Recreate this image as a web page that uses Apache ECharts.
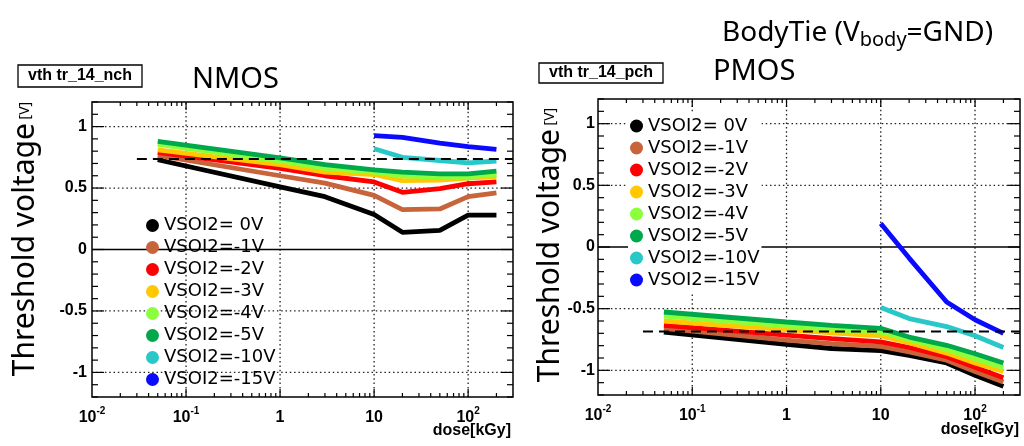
<!DOCTYPE html>
<html>
<head>
<meta charset="utf-8">
<script src="https://cdn.jsdelivr.net/npm/echarts@6/dist/echarts.min.js"></script>
<style>
html,body{margin:0;padding:0;background:#fff;}
#chart{width:1024px;height:446px;}
</style>
</head>
<body>
<div id="chart"></div>
<script>
// ---------- data ----------
const seriesNames = ['VSOI2= 0V','VSOI2=-1V','VSOI2=-2V','VSOI2=-3V','VSOI2=-4V','VSOI2=-5V','VSOI2=-10V','VSOI2=-15V'];
const seriesColors = ['#000000','#c8643c','#ff0000','#ffc800','#8cff3c','#00a84c','#28c8c8','#0a0aff'];
const doseLow  = [0.05, 1, 3, 10, 20, 50, 100, 200];
const doseHigh = [10, 20, 50, 100, 200];

// NMOS threshold voltage [V]
const nmos0V   = [0.73, 0.51, 0.43, 0.285, 0.14, 0.155, 0.28, 0.28];
const nmos1V   = [0.765, 0.60, 0.54, 0.44, 0.325, 0.33, 0.43, 0.46];
const nmos2V   = [0.79, 0.66, 0.60, 0.55, 0.465, 0.495, 0.535, 0.55];
const nmos3V   = [0.81, 0.69, 0.63, 0.61, 0.56, 0.565, 0.58, 0.595];
const nmos4V   = [0.855, 0.72, 0.66, 0.63, 0.60, 0.59, 0.59, 0.61];
const nmos5V   = [0.88, 0.745, 0.69, 0.648, 0.63, 0.615, 0.615, 0.637];
const nmos10V  = [0.82, 0.75, 0.724, 0.705, 0.72];
const nmos15V  = [0.927, 0.913, 0.865, 0.837, 0.815];
const nmosRef  = 0.737;

// PMOS threshold voltage [V]
const pmos0V   = [-0.69, -0.79, -0.823, -0.84, -0.878, -0.94, -1.04, -1.13];
const pmos1V   = [-0.66, -0.755, -0.783, -0.805, -0.85, -0.918, -1.01, -1.094];
const pmos2V   = [-0.635, -0.715, -0.743, -0.77, -0.815, -0.89, -0.975, -1.06];
const pmos3V   = [-0.60, -0.67, -0.697, -0.72, -0.775, -0.86, -0.94, -1.01];
const pmos4V   = [-0.56, -0.64, -0.67, -0.69, -0.75, -0.83, -0.905, -0.978];
const pmos5V   = [-0.527, -0.608, -0.635, -0.66, -0.73, -0.797, -0.865, -0.94];
const pmos10V  = [-0.49, -0.58, -0.645, -0.72, -0.815];
const pmos15V  = [0.19, -0.09, -0.446, -0.59, -0.70];
const pmosRef  = -0.685;

const refDose = [0.03, 300];

// axes / ticks
const X_MIN = 0.01, X_MAX = 300, Y_MIN = -1.2, Y_MAX = 1.2;
const xGridValues = [0.1, 1, 10, 100];
const yGridValues = [-1, -0.5, 0.5, 1];
const yMajorTicks = [-1, -0.5, 0, 0.5, 1];
const xMajorTicks = [0.1, 1, 10, 100];
const decades = [0.01, 0.1, 1, 10, 100];
const mantissas = [2, 3, 4, 5, 6, 7, 8, 9];

const xMinorTicks = [];
decades.forEach(d => mantissas.forEach(m => { const v = +(d * m).toPrecision(6); if (v < X_MAX) xMinorTicks.push(v); }));
const yMinorTicks = [];
for (let k = -12; k <= 12; k++) { if (k % 5 !== 0) yMinorTicks.push(k / 10); }

const nmosData = [nmos0V, nmos1V, nmos2V, nmos3V, nmos4V, nmos5V, nmos10V, nmos15V];
const pmosData = [pmos0V, pmos1V, pmos2V, pmos3V, pmos4V, pmos5V, pmos10V, pmos15V];

// ---------- helpers ----------
const LBL_FONT = '"Liberation Sans", Arial, sans-serif';
function pairs(xs, ys) { return ys.map((y, i) => [xs[i], y]); }

function dataSeries(gi, arrs) {
  return arrs.map((ys, i) => ({
    type: 'line', name: seriesNames[i], xAxisIndex: gi, yAxisIndex: gi,
    data: pairs(ys.length === doseLow.length ? doseLow : doseHigh, ys),
    showSymbol: false, symbol: 'circle', color: seriesColors[i],
    lineStyle: { color: seriesColors[i], width: 4.8 }, z: 2, silent: true
  }));
}
function refSeries(gi, v) {
  return { type: 'line', name: 'ref' + gi, xAxisIndex: gi, yAxisIndex: gi,
    data: refDose.map(x => [x, v]), showSymbol: false,
    lineStyle: { color: '#000', width: 2, type: [10, 6] }, z: 3, silent: true };
}
function vLineSeries(gi, values, style, z) {
  return { type: 'custom', xAxisIndex: gi, yAxisIndex: gi, silent: true, z: z, clip: false,
    data: values.map(v => [v, Y_MIN]),
    renderItem: (p, api) => {
      const v = api.value(0), a = api.coord([v, Y_MIN]), b = api.coord([v, Y_MAX]);
      return { type: 'line', shape: { x1: a[0], y1: a[1], x2: b[0], y2: b[1] }, style: style };
    } };
}
function hLineSeries(gi, values, style, z) {
  return { type: 'custom', xAxisIndex: gi, yAxisIndex: gi, silent: true, z: z, clip: false,
    data: values.map(v => [X_MIN, v]),
    renderItem: (p, api) => {
      const v = api.value(1), a = api.coord([X_MIN, v]), b = api.coord([X_MAX, v]);
      return { type: 'line', shape: { x1: a[0], y1: a[1], x2: b[0], y2: b[1] }, style: style };
    } };
}
const tickStyle = { stroke: '#000', lineWidth: 1.2 };
function xTickSeries(gi, values, len) {
  return { type: 'custom', xAxisIndex: gi, yAxisIndex: gi, silent: true, z: 5, clip: false,
    data: values.map(v => [v, Y_MIN]),
    renderItem: (p, api) => {
      const v = api.value(0), a = api.coord([v, Y_MIN]), b = api.coord([v, Y_MAX]);
      return { type: 'group', children: [
        { type: 'line', shape: { x1: a[0], y1: a[1], x2: a[0], y2: a[1] - len }, style: tickStyle },
        { type: 'line', shape: { x1: b[0], y1: b[1], x2: b[0], y2: b[1] + len }, style: tickStyle }
      ] };
    } };
}
function yTickSeries(gi, values, len) {
  return { type: 'custom', xAxisIndex: gi, yAxisIndex: gi, silent: true, z: 5, clip: false,
    data: values.map(v => [X_MIN, v]),
    renderItem: (p, api) => {
      const v = api.value(1), a = api.coord([X_MIN, v]), b = api.coord([X_MAX, v]);
      return { type: 'group', children: [
        { type: 'line', shape: { x1: a[0], y1: a[1], x2: a[0] + len, y2: a[1] }, style: tickStyle },
        { type: 'line', shape: { x1: b[0], y1: b[1], x2: b[0] - len, y2: b[1] }, style: tickStyle }
      ] };
    } };
}
const dotStyle = { stroke: '#222', lineWidth: 1.3, lineDash: [1.5, 2.8] };
const zeroStyle = { stroke: '#000', lineWidth: 1.3 };

function decorSeries(gi) {
  return [
    vLineSeries(gi, xGridValues, dotStyle, 1),
    hLineSeries(gi, yGridValues, dotStyle, 1),
    hLineSeries(gi, [0], zeroStyle, 1),
    xTickSeries(gi, xMajorTicks, 8),
    xTickSeries(gi, xMinorTicks, 4),
    yTickSeries(gi, yMajorTicks, 12),
    yTickSeries(gi, yMinorTicks, 6)
  ];
}

function xAxisDef(gi) {
  return { type: 'log', logBase: 10, gridIndex: gi, min: X_MIN, max: X_MAX,
    axisLine: { show: false, onZero: false }, axisTick: { show: false },
    splitLine: { show: false }, minorTick: { show: false }, minorSplitLine: { show: false },
    axisLabel: { margin: 9, formatter: v => {
        const l = Math.log10(v), e = Math.round(l);
        if (Math.abs(l - e) > 1e-6) return '';
        if (e === 0) return '{b|1}';
        if (e === 1) return '{b|10}';
        return '{b|10}{s|' + e + '}';
      },
      rich: { b: { fontFamily: LBL_FONT, fontWeight: 'bold', fontSize: 16, color: '#000', lineHeight: 20, verticalAlign: 'bottom' },
              s: { fontFamily: LBL_FONT, fontWeight: 'bold', fontSize: 10, color: '#000', lineHeight: 11, verticalAlign: 'top' } } } };
}
function yAxisDef(gi, margin) {
  return { type: 'value', gridIndex: gi, min: Y_MIN, max: Y_MAX, interval: 0.1,
    axisLine: { show: false, onZero: false }, axisTick: { show: false }, splitLine: { show: false },
    axisLabel: { margin: margin, fontFamily: LBL_FONT, fontWeight: 'bold', fontSize: 16, color: '#000',
      formatter: v => (Math.abs(v * 2 - Math.round(v * 2)) < 1e-6 ? String(Math.round(v * 2) / 2) : '') } };
}
function legendDef(left, top, bg) {
  return { data: seriesNames, orient: 'vertical', left: left, top: top, itemWidth: 13, itemHeight: 13,
    itemGap: 0, padding: bg ? [3, 2, 3, 2] : 0, icon: 'circle', selectedMode: false,
    backgroundColor: bg ? '#fff' : 'transparent', z: 6,
    textStyle: { fontFamily: '"DejaVu Sans", sans-serif', fontSize: 18, color: '#000', lineHeight: 22 } };
}

const TITLE_FONT = '"Noto Sans", "Liberation Sans", sans-serif';
function yTitle(x, y) {
  return { type: 'text', x: x, y: y, rotation: Math.PI / 2, z: 10,
    style: { x: 0, y: 0, text: '{m|Threshold voltage}{v| [V]}', align: 'center', verticalAlign: 'middle',
      textAlign: 'center', textVerticalAlign: 'middle',
      rich: { m: { fontFamily: TITLE_FONT, fontSize: 30, color: '#000', lineHeight: 36 },
              v: { fontFamily: TITLE_FONT, fontSize: 14, color: '#000', lineHeight: 36 } } } };
}
function plainText(x, y, text, font, align) {
  return { type: 'text', z: 10, style: { x: x, y: y, text: text, font: font, fill: '#000',
    align: align, textAlign: align, verticalAlign: 'middle', textVerticalAlign: 'middle' } };
}
function boxLabel(x, y, w, h, text) {
  return [
    { type: 'rect', z: 9, shape: { x: x, y: y, width: w, height: h }, style: { fill: '#fff', stroke: '#000', lineWidth: 1.3 } },
    plainText(x + w / 2, y + h / 2, text, 'bold 16px ' + LBL_FONT, 'center')
  ];
}

const option = {
  animation: false,
  backgroundColor: '#fff',
  grid: [
    { left: 92, top: 102, width: 421, height: 295, show: true, borderColor: '#000', borderWidth: 1.5, backgroundColor: '#fff' },
    { left: 598, top: 99, width: 422, height: 296, show: true, borderColor: '#000', borderWidth: 1.5, backgroundColor: '#fff' }
  ],
  xAxis: [xAxisDef(0), xAxisDef(1)],
  yAxis: [yAxisDef(0, 5), yAxisDef(1, 3)],
  legend: [legendDef(146, 214.5, false), legendDef(628, 112, true)],
  graphic: [
    ...boxLabel(18, 65, 124, 22, 'vth tr_14_nch'),
    ...boxLabel(539, 63, 124, 20, 'vth tr_14_pch'),
    plainText(192, 80, 'NMOS', '29px ' + TITLE_FONT, 'left'),
    plainText(713, 71.5, 'PMOS', '29px ' + TITLE_FONT, 'left'),
    { type: 'text', z: 10, style: { x: 722, y: 33.5, text: '{m|BodyTie (V}{s|body}{m|=GND)}', align: 'left', textAlign: 'left',
        verticalAlign: 'middle', textVerticalAlign: 'middle',
        rich: { m: { fontFamily: TITLE_FONT, fontSize: 28, color: '#000', lineHeight: 34 },
                s: { fontFamily: TITLE_FONT, fontSize: 20, color: '#000', lineHeight: 22, verticalAlign: 'bottom' } } } },
    yTitle(25, 239),
    yTitle(550, 245),
    plainText(511, 431, 'dose[kGy]', 'bold 16px ' + LBL_FONT, 'right'),
    plainText(1019, 430, 'dose[kGy]', 'bold 16px ' + LBL_FONT, 'right')
  ],
  series: [
    ...decorSeries(0), ...decorSeries(1),
    ...dataSeries(0, nmosData), ...dataSeries(1, pmosData),
    refSeries(0, nmosRef), refSeries(1, pmosRef)
  ]
};

const chart = echarts.init(document.getElementById('chart'), null, { renderer: 'canvas' });
chart.setOption(option);
</script>
</body>
</html>
